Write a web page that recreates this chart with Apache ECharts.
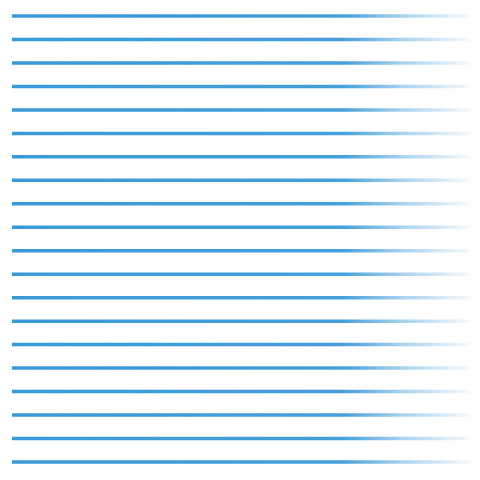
<!DOCTYPE html><html><head><meta charset="utf-8"><script src="https://cdn.jsdelivr.net/npm/echarts@6/dist/echarts.min.js"></script></head><body style="margin:0"><div id="c" style="width:480px;height:480px"></div><script>
const rows = ['1','2','3','4','5','6','7','8','9','10','11','12','13','14','15','16','17','18','19','20'];
const values = [100,100,100,100,100,100,100,100,100,100,100,100,100,100,100,100,100,100,100,100];
const chart = echarts.init(document.getElementById('c'));
chart.setOption({
  animation:false,
  grid:{left:12,right:10,top:4.3,bottom:6.3},
  xAxis:{type:'value',min:0,max:100,show:false},
  yAxis:{type:'category',data:rows,inverse:true,show:false},
  series:[{type:'bar',data:values,barWidth:3.5,
    itemStyle:{color:new echarts.graphic.LinearGradient(0,0,1,0,[
      {offset:0,color:'rgba(58,154,217,1)'},
      {offset:0.72,color:'rgba(58,154,217,0.95)'},
      {offset:0.85,color:'rgba(58,154,217,0.45)'},
      {offset:1,color:'rgba(58,154,217,0.05)'}])}}]
});
</script></body></html>
